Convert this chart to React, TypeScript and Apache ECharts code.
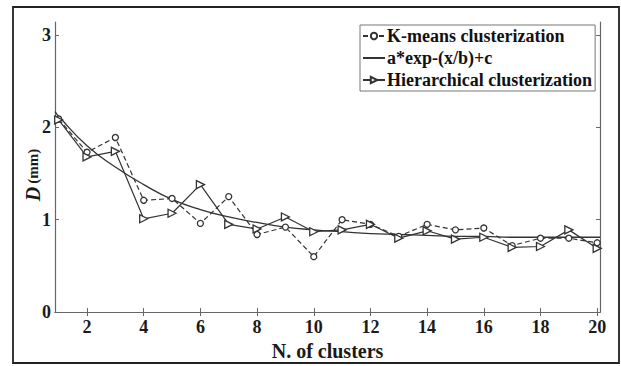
import React, { useEffect, useRef } from "react";
import * as echarts from "echarts";

const clusters = [1, 2, 3, 4, 5, 6, 7, 8, 9, 10, 11, 12, 13, 14, 15, 16, 17, 18, 19, 20];
const kmeans = [2.09, 1.73, 1.89, 1.21, 1.23, 0.96, 1.25, 0.84, 0.92, 0.6, 1.0, 0.95, 0.82, 0.95, 0.89, 0.91, 0.72, 0.8, 0.8, 0.75];
const hierarchical = [2.08, 1.68, 1.74, 1.01, 1.07, 1.38, 0.95, 0.9, 1.03, 0.87, 0.89, 0.95, 0.8, 0.88, 0.79, 0.81, 0.7, 0.71, 0.89, 0.69];
const fitX = [0.87, 1, 2, 3, 4, 5, 6, 7, 8, 9, 10, 11, 12, 13, 14, 15, 16, 17, 18, 19, 20, 20.1];
const fitY = [2.17, 2.12, 1.8, 1.57, 1.38, 1.22, 1.11, 1.03, 0.97, 0.92, 0.89, 0.87, 0.85, 0.84, 0.83, 0.82, 0.82, 0.81, 0.81, 0.81, 0.81, 0.81];
const xTicks = [2, 4, 6, 8, 10, 12, 14, 16, 18, 20];
const yTicks = [0, 1, 2, 3];
const seriesNames = ["K-means clusterization", "a*exp-(x/b)+c", "Hierarchical clusterization"];

const FONT = "Liberation Serif";
const INK = "#1a1a1a";

export default function App() {
  const ref = useRef<HTMLDivElement>(null);
  useEffect(() => {
    if (!ref.current) return;
    const chart = echarts.init(ref.current, undefined, { renderer: "svg" });
    const axisLine = { show: true, lineStyle: { color: "#666", width: 1.2 } };
    const tick = (vals: number[]) => ({ show: true, inside: true, length: 4, customValues: vals, lineStyle: { color: "#666" } });
    chart.setOption({
      animation: false,
      backgroundColor: "#fff",
      grid: { left: 55, right: 21, top: 22, bottom: 46, show: false },
      legend: {
        orient: "vertical",
        left: 360,
        top: 25,
        data: [
          { name: seriesNames[0] },
          { name: seriesNames[1], itemStyle: { opacity: 0 } },
          { name: seriesNames[2] },
        ],
        itemWidth: 22,
        itemHeight: 8,
        itemGap: 4,
        padding: [2, 3, 2, 2],
        borderColor: "#777",
        borderWidth: 1,
        backgroundColor: "#fff",
        textStyle: { fontFamily: FONT, fontWeight: "bold", fontSize: 18, color: "#111", padding: [0, 0, 0, -3] },
      },
      xAxis: [
        {
          type: "value",
          min: 0.87,
          max: 20.1,
          axisLine,
          splitLine: { show: false },
          axisTick: tick(xTicks),
          axisLabel: { customValues: xTicks, fontFamily: FONT, fontWeight: "bold", fontSize: 18, color: INK, margin: 6 },
          name: "N. of clusters",
          nameLocation: "middle",
          nameGap: 19,
          nameTextStyle: { fontFamily: FONT, fontWeight: "bold", fontSize: 20, color: INK },
        },
        {
          type: "value",
          position: "top",
          min: 0.87,
          max: 20.1,
          axisLine,
          splitLine: { show: false },
          axisTick: tick(xTicks),
          axisLabel: { show: false },
        },
      ],
      yAxis: [
        {
          type: "value",
          min: 0,
          max: 3.14,
          interval: 1,
          axisLine,
          splitLine: { show: false },
          axisTick: tick(yTicks),
          axisLabel: { customValues: yTicks, fontFamily: FONT, fontWeight: "bold", fontSize: 18, color: INK, margin: 4 },
        },
        {
          type: "value",
          position: "right",
          min: 0,
          max: 3.14,
          interval: 1,
          axisLine,
          splitLine: { show: false },
          axisTick: tick(yTicks),
          axisLabel: { show: false },
        },
      ],
      series: [
        {
          name: seriesNames[0],
          type: "line",
          data: clusters.map((c, i) => [c, kmeans[i]]),
          symbol: "circle",
          symbolSize: 6,
          lineStyle: { color: "#333", width: 1.2, type: [5, 3] },
          itemStyle: { color: "#fff", borderColor: "#333", borderWidth: 1.3 },
          z: 3,
        },
        {
          name: seriesNames[1],
          type: "line",
          data: fitX.map((x, i) => [x, fitY[i]]),
          symbol: "none",
          smooth: true,
          lineStyle: { color: "#333", width: 1.3 },
          itemStyle: { color: "#333" },
          z: 2,
        },
        {
          name: seriesNames[2],
          type: "line",
          data: clusters.map((c, i) => [c, hierarchical[i]]),
          symbol: "triangle",
          symbolRotate: -90,
          symbolSize: 8,
          lineStyle: { color: "#333", width: 1.2 },
          itemStyle: { color: "#fff", borderColor: "#333", borderWidth: 1.3 },
          z: 3,
        },
      ],
      graphic: [
        {
          type: "rect",
          shape: { x: 13, y: 7, width: 606, height: 356 },
          style: { fill: "none", stroke: "#222", lineWidth: 1.8 },
          silent: true,
        },
        {
          type: "text",
          x: 33,
          y: 175,
          rotation: Math.PI / 2,
          style: {
            text: "{d|D}{u|(mm)}",
            rich: {
              d: { fontFamily: FONT, fontStyle: "italic", fontWeight: "bold", fontSize: 20, fill: INK, padding: [0, 3, 0, 0] },
              u: { fontFamily: FONT, fontWeight: "bold", fontSize: 15, fill: INK },
            },
            align: "center",
            verticalAlign: "middle",
          },
        },
      ],
    });
    return () => chart.dispose();
  }, []);
  return <div ref={ref} style={{ position: "fixed", left: 0, top: 0, width: 621, height: 366 }} />;
}
